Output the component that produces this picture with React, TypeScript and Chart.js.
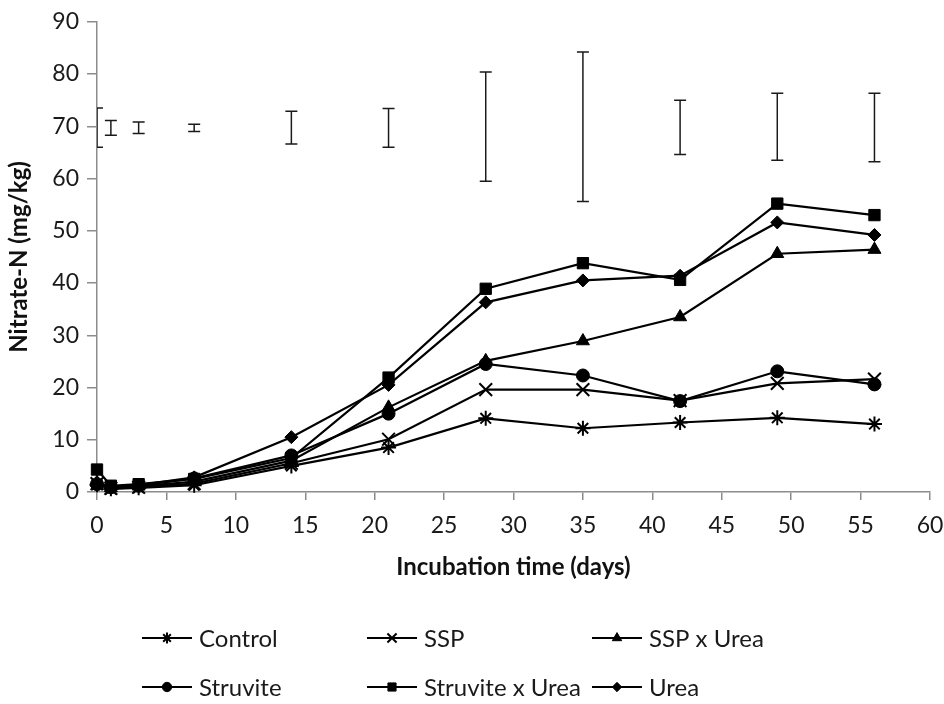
import React, { useEffect, useRef } from 'react';
import { Chart, registerables } from 'chart.js';
import { drawPoint } from 'chart.js/helpers';

Chart.register(...registerables);

const FONT = 'Lato, "Open Sans", sans-serif';

// Incubation days (x values)
const days = [0, 1, 3, 7, 14, 21, 28, 35, 42, 49, 56];

// Nitrate-N (mg/kg) per treatment
const control = [1.4, 0.6, 0.8, 1.3, 5.0, 8.5, 14.1, 12.2, 13.3, 14.2, 13.0];
const ssp = [1.6, 0.7, 0.9, 1.6, 5.5, 10.1, 19.6, 19.6, 17.5, 20.8, 21.6];
const sspUrea = [1.8, 0.8, 1.1, 2.0, 6.0, 16.2, 25.1, 28.9, 33.5, 45.6, 46.4];
const struvite = [1.5, 0.9, 1.2, 2.6, 7.0, 15.0, 24.5, 22.3, 17.4, 23.1, 20.6];
const struviteUrea = [4.3, 1.2, 1.5, 2.5, 6.5, 21.9, 38.9, 43.8, 40.6, 55.2, 53.0];
const urea = [1.5, 0.8, 1.3, 2.8, 10.5, 20.5, 36.3, 40.5, 41.4, 51.6, 49.2];

// Error bars (LSD) shown near the top of the plot
const errLow = [66.0, 68.3, 68.6, 69.0, 66.6, 66.0, 59.5, 55.6, 64.6, 63.5, 63.2];
const errHigh = [73.5, 71.1, 70.8, 70.4, 72.9, 73.4, 80.4, 84.2, 75.0, 76.3, 76.3];

// Axis ticks
const xTickStep = 5;
const xMin = 0;
const xMax = 60;
const yTickStep = 10;
const yMin = 0;
const yMax = 90;

const seriesNames = ['Control', 'SSP', 'SSP x Urea', 'Struvite', 'Struvite x Urea', 'Urea'];
const seriesValues = [control, ssp, sspUrea, struvite, struviteUrea, urea];
const pointStyles = ['star', 'crossRot', 'triangle', 'circle', 'rect', 'rectRot'];
const pointRadii = [7.5, 9, 7.5, 6.5, 8, 6.5];
const pointBorders = [2, 2, 1, 1, 1, 1];

const errorBarPlugin = {
  id: 'errorBars',
  afterDatasetsDraw(chart: any) {
    const { ctx, chartArea, scales } = chart;
    const x = scales.x;
    const y = scales.y;
    ctx.save();
    ctx.beginPath();
    ctx.rect(chartArea.left, chartArea.top, chartArea.right - chartArea.left, chartArea.bottom - chartArea.top);
    ctx.clip();
    ctx.strokeStyle = '#1a1a1a';
    ctx.lineWidth = 1.5;
    days.forEach((d, i) => {
      const px = x.getPixelForValue(d);
      const yl = y.getPixelForValue(errLow[i]);
      const yh = y.getPixelForValue(errHigh[i]);
      ctx.beginPath();
      ctx.moveTo(px, yl);
      ctx.lineTo(px, yh);
      ctx.moveTo(px - 6, yl);
      ctx.lineTo(px + 6, yl);
      ctx.moveTo(px - 6, yh);
      ctx.lineTo(px + 6, yh);
      ctx.stroke();
    });
    ctx.restore();
  },
};

const gridLegendPlugin = {
  id: 'gridLegend',
  afterDraw(chart: any) {
    const ctx = chart.ctx;
    const cols = [142, 367, 592];
    const rows = [638, 687];
    chart.data.datasets.forEach((ds: any, i: number) => {
      const lx = cols[i % 3];
      const ly = rows[Math.floor(i / 3)];
      ctx.save();
      ctx.strokeStyle = '#000';
      ctx.lineWidth = 2;
      ctx.beginPath();
      ctx.moveTo(lx, ly);
      ctx.lineTo(lx + 50, ly);
      ctx.stroke();
      ctx.fillStyle = '#000';
      ctx.strokeStyle = '#000';
      ctx.lineWidth = ds.pointBorderWidth;
      drawPoint(ctx, {
        pointStyle: ds.pointStyle,
        radius: ds.pointRadius * 0.72,
        borderWidth: ds.pointBorderWidth,
        rotation: 0,
      } as any, lx + 25, ly);
      ctx.fillStyle = '#1a1a1a';
      ctx.font = `24px ${FONT}`;
      ctx.textBaseline = 'middle';
      ctx.textAlign = 'left';
      ctx.fillText(ds.label, lx + 57, ly + 1);
      ctx.restore();
    });
  },
};

export default function App() {
  const canvasRef = useRef<HTMLCanvasElement | null>(null);

  useEffect(() => {
    const canvas = canvasRef.current;
    if (!canvas) return;
    const datasets = seriesNames.map((name, i) => ({
      label: name,
      data: days.map((d, j) => ({ x: d, y: seriesValues[i][j] })),
      borderColor: '#000',
      backgroundColor: '#000',
      borderWidth: 2.2,
      pointStyle: pointStyles[i],
      pointRadius: pointRadii[i],
      pointBorderWidth: pointBorders[i],
      pointBackgroundColor: '#000',
      pointBorderColor: '#000',
      tension: 0,
      clip: false as any,
    }));

    const chart = new Chart(canvas, {
      type: 'line',
      data: { datasets },
      options: {
        animation: false,
        responsive: false,
        devicePixelRatio: 1,
        layout: { padding: { left: 0, right: 14, top: 19, bottom: 120 } },
        plugins: {
          legend: { display: false },
          tooltip: { enabled: false },
        },
        scales: {
          x: {
            type: 'linear',
            min: xMin,
            max: xMax,
            ticks: {
              stepSize: xTickStep,
              color: '#1a1a1a',
              font: { family: FONT, size: 23 },
              padding: 12,
              maxRotation: 0,
            },
            grid: {
              display: true,
              drawOnChartArea: false,
              drawTicks: true,
              tickLength: 8,
              color: '#8c8c8c',
              lineWidth: 1.5,
            },
            border: { color: '#8c8c8c', width: 1.5 },
            title: {
              display: true,
              text: 'Incubation time (days)',
              color: '#111',
              font: { family: FONT, size: 24, weight: 'bold' },
              padding: { top: 0, bottom: 2 },
            },
            afterFit: (s: any) => {
              s.height = 92;
              s.paddingLeft = 0;
              s.paddingRight = 0;
            },
          },
          y: {
            type: 'linear',
            min: yMin,
            max: yMax,
            ticks: {
              stepSize: yTickStep,
              color: '#1a1a1a',
              font: { family: FONT, size: 23 },
              padding: 8,
            },
            grid: {
              display: true,
              drawOnChartArea: false,
              drawTicks: true,
              tickLength: 10,
              color: '#8c8c8c',
              lineWidth: 1.5,
            },
            border: { color: '#8c8c8c', width: 1.5 },
            title: {
              display: true,
              text: 'Nitrate-N (mg/kg)',
              color: '#111',
              font: { family: FONT, size: 24, weight: 'bold' },
              padding: { top: 5, bottom: 0 },
            },
            afterFit: (s: any) => {
              s.width = 97;
            },
          },
        },
      } as any,
      plugins: [errorBarPlugin, gridLegendPlugin],
    });

    return () => {
      chart.destroy();
    };
  }, []);

  return (
    <div style={{ position: 'absolute', left: 0, top: 0, width: 944, height: 704, background: '#fff' }}>
      <canvas ref={canvasRef} width={944} height={704} style={{ width: 944, height: 704, display: 'block' }} />
    </div>
  );
}
